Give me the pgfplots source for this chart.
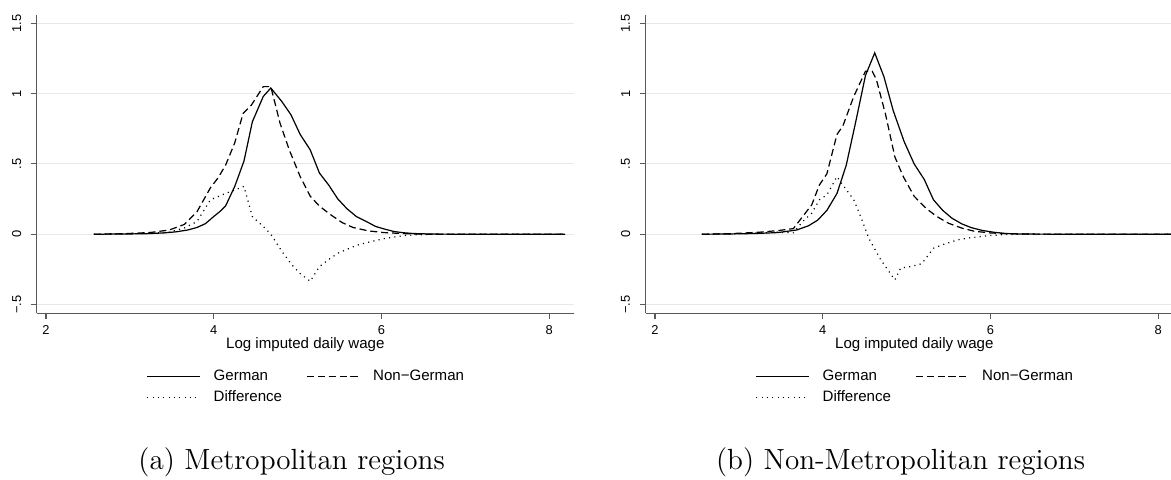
\documentclass[border=0pt]{standalone}
\usepackage{fontspec}
\setmainfont{Latin Modern Roman}
\setsansfont{Liberation Sans}
\usepackage{pgfplots}
\pgfplotsset{compat=1.18}
\definecolor{axisgray}{gray}{0.35}
\definecolor{gridgray}{gray}{0.91}
\pgfplotsset{
  statastyle/.style={
    scale only axis, width=221.1pt, height=122.75pt,
    xmin=1.889, xmax=8.294, ymin=-0.562, ymax=1.56,
    axis lines=left, axis line style={-, draw=axisgray, line width=0.45pt},
    tick style={draw=axisgray, line width=0.45pt},
    tick align=outside, major tick length=2.35pt,
    xtick={2,4,6,8}, ytick={-0.5,0,0.5,1,1.5},
    yticklabels={−.5,0,.5,1,1.5},
    ymajorgrids, grid style={draw=gridgray, line width=0.45pt},
    /pgf/number format/assume math mode=true,
    tick label style={font=\sffamily\fontsize{5.3}{6.3}\selectfont, inner sep=0pt},
    xticklabel style={anchor=center, yshift=-4.4pt},
    yticklabel style={xshift=-5.9pt, rotate=90, anchor=center},
    xlabel={Log imputed daily wage},
    xlabel style={font=\sffamily\fontsize{6.2}{7.4}\selectfont, at={(axis description cs:0.5,0)}, anchor=center, yshift=-13.0pt, inner sep=0pt},
    legend columns=2,
    legend cell align=left,
    legend style={at={(axis description cs:0.5,0)}, anchor=center, yshift=-30.5pt,
      draw=none, fill=none, inner sep=0pt, outer sep=0pt,
      font=\sffamily\fontsize{6.2}{7.4}\selectfont,
      nodes={inner sep=0pt, text height=4.5pt, text depth=1.2pt},
      row sep=2.94pt, column sep=5.3pt,
      /tikz/every even column/.append style={column sep=9.9pt}},
    legend image code/.code={\draw[#1] (0pt,0pt) -- (21.8pt,0pt);},
    clip=true,
  },
  german/.style={black, line width=0.5pt},
  nongerman/.style={black, line width=0.5pt, dash pattern=on 2.9pt off 1.6pt},
  diffstyle/.style={black, line width=0.5pt, dash pattern=on 0.45pt off 1.75pt},
}
\begin{document}
\begin{tikzpicture}
\begin{axis}[statastyle, at={(15.1pt,68.6pt)}, anchor=south west]
\addplot[german] coordinates {(2.57,0) (2.8,0.001) (3.0,0.002) (3.2,0.004) (3.4,0.009) (3.55,0.017) (3.69,0.03) (3.8,0.048) (3.9,0.075) (4.0,0.126) (4.07,0.16) (4.14,0.20) (4.25,0.34) (4.36,0.52) (4.46,0.80) (4.59,0.98) (4.68,1.04) (4.81,0.945) (4.92,0.85) (5.03,0.71) (5.15,0.60) (5.26,0.435) (5.37,0.35) (5.48,0.25) (5.59,0.18) (5.70,0.126) (5.82,0.09) (5.93,0.055) (6.04,0.036) (6.15,0.019) (6.27,0.01) (6.38,0.005) (6.6,0.001) (7.0,0) (8.19,0)};
\addlegendentry{German}
\addplot[nongerman] coordinates {(2.57,0) (2.9,0.003) (3.24,0.012) (3.47,0.03) (3.65,0.07) (3.80,0.16) (3.96,0.33) (4.05,0.40) (4.14,0.49) (4.25,0.65) (4.35,0.86) (4.45,0.92) (4.59,1.05) (4.68,1.05) (4.79,0.79) (4.90,0.60) (5.03,0.41) (5.15,0.27) (5.26,0.20) (5.39,0.14) (5.53,0.083) (5.66,0.048) (5.84,0.024) (6.02,0.012) (6.24,0.005) (6.38,0.002) (6.6,0.0) (8.19,0)};
\addlegendentry{Non−German}
\addplot[diffstyle] coordinates {(2.57,0) (2.9,0.002) (3.24,0.006) (3.47,0.015) (3.65,0.045) (3.80,0.09) (3.96,0.245) (4.14,0.29) (4.25,0.315) (4.36,0.34) (4.46,0.125) (4.59,0.055) (4.68,0.0) (4.81,-0.12) (4.92,-0.21) (5.03,-0.28) (5.15,-0.335) (5.26,-0.23) (5.37,-0.18) (5.48,-0.135) (5.59,-0.107) (5.70,-0.08) (5.82,-0.06) (5.93,-0.045) (6.04,-0.03) (6.15,-0.02) (6.27,-0.01) (6.38,-0.005) (6.6,-0.001) (7.0,0) (8.19,0)};
\addlegendentry{Difference}
\end{axis}
\begin{axis}[statastyle, at={(265.7pt,68.6pt)}, anchor=south west]
\addplot[german] coordinates {(2.56,0) (2.9,0.002) (3.2,0.005) (3.47,0.012) (3.69,0.03) (3.83,0.06) (3.94,0.10) (4.05,0.17) (4.17,0.29) (4.28,0.49) (4.39,0.79) (4.51,1.13) (4.62,1.29) (4.73,1.12) (4.84,0.88) (4.97,0.66) (5.09,0.50) (5.21,0.39) (5.32,0.245) (5.43,0.17) (5.54,0.114) (5.66,0.073) (5.77,0.047) (5.91,0.026) (6.04,0.014) (6.18,0.005) (6.40,0.001) (7.0,0) (8.19,0)};
\addlegendentry{German}
\addplot[nongerman] coordinates {(2.56,0) (2.9,0.004) (3.24,0.014) (3.47,0.026) (3.65,0.04) (3.76,0.125) (3.87,0.21) (3.96,0.35) (4.05,0.43) (4.17,0.71) (4.24,0.77) (4.37,0.98) (4.51,1.16) (4.59,1.16) (4.64,1.10) (4.75,0.85) (4.86,0.55) (4.96,0.41) (5.09,0.27) (5.23,0.185) (5.36,0.126) (5.50,0.078) (5.66,0.043) (5.81,0.021) (6.0,0.009) (6.18,0.004) (6.4,0.001) (7.0,0) (8.19,0)};
\addlegendentry{Non−German}
\addplot[diffstyle] coordinates {(2.56,0) (2.9,0.002) (3.24,0.009) (3.47,0.014) (3.65,0.01) (3.76,0.09) (3.87,0.15) (3.96,0.245) (4.05,0.28) (4.17,0.41) (4.24,0.35) (4.37,0.245) (4.46,0.114) (4.55,-0.03) (4.69,-0.18) (4.86,-0.325) (4.93,-0.24) (5.05,-0.23) (5.18,-0.21) (5.32,-0.10) (5.45,-0.07) (5.61,-0.04) (5.77,-0.024) (5.95,-0.012) (6.18,-0.002) (6.5,0) (8.19,0)};
\addlegendentry{Difference}
\end{axis}
\node[anchor=base, font=\fontsize{12}{14}\selectfont, inner sep=0pt] at (120.0pt,4.1pt) {(a) Metropolitan regions};
\node[anchor=base, font=\fontsize{12}{14}\selectfont, inner sep=0pt] at (370.6pt,4.1pt) {(b) Non-Metropolitan regions};
\pgfresetboundingbox
\useasboundingbox (0,0) rectangle (481.9pt,197.5pt);
\end{tikzpicture}
\end{document}
